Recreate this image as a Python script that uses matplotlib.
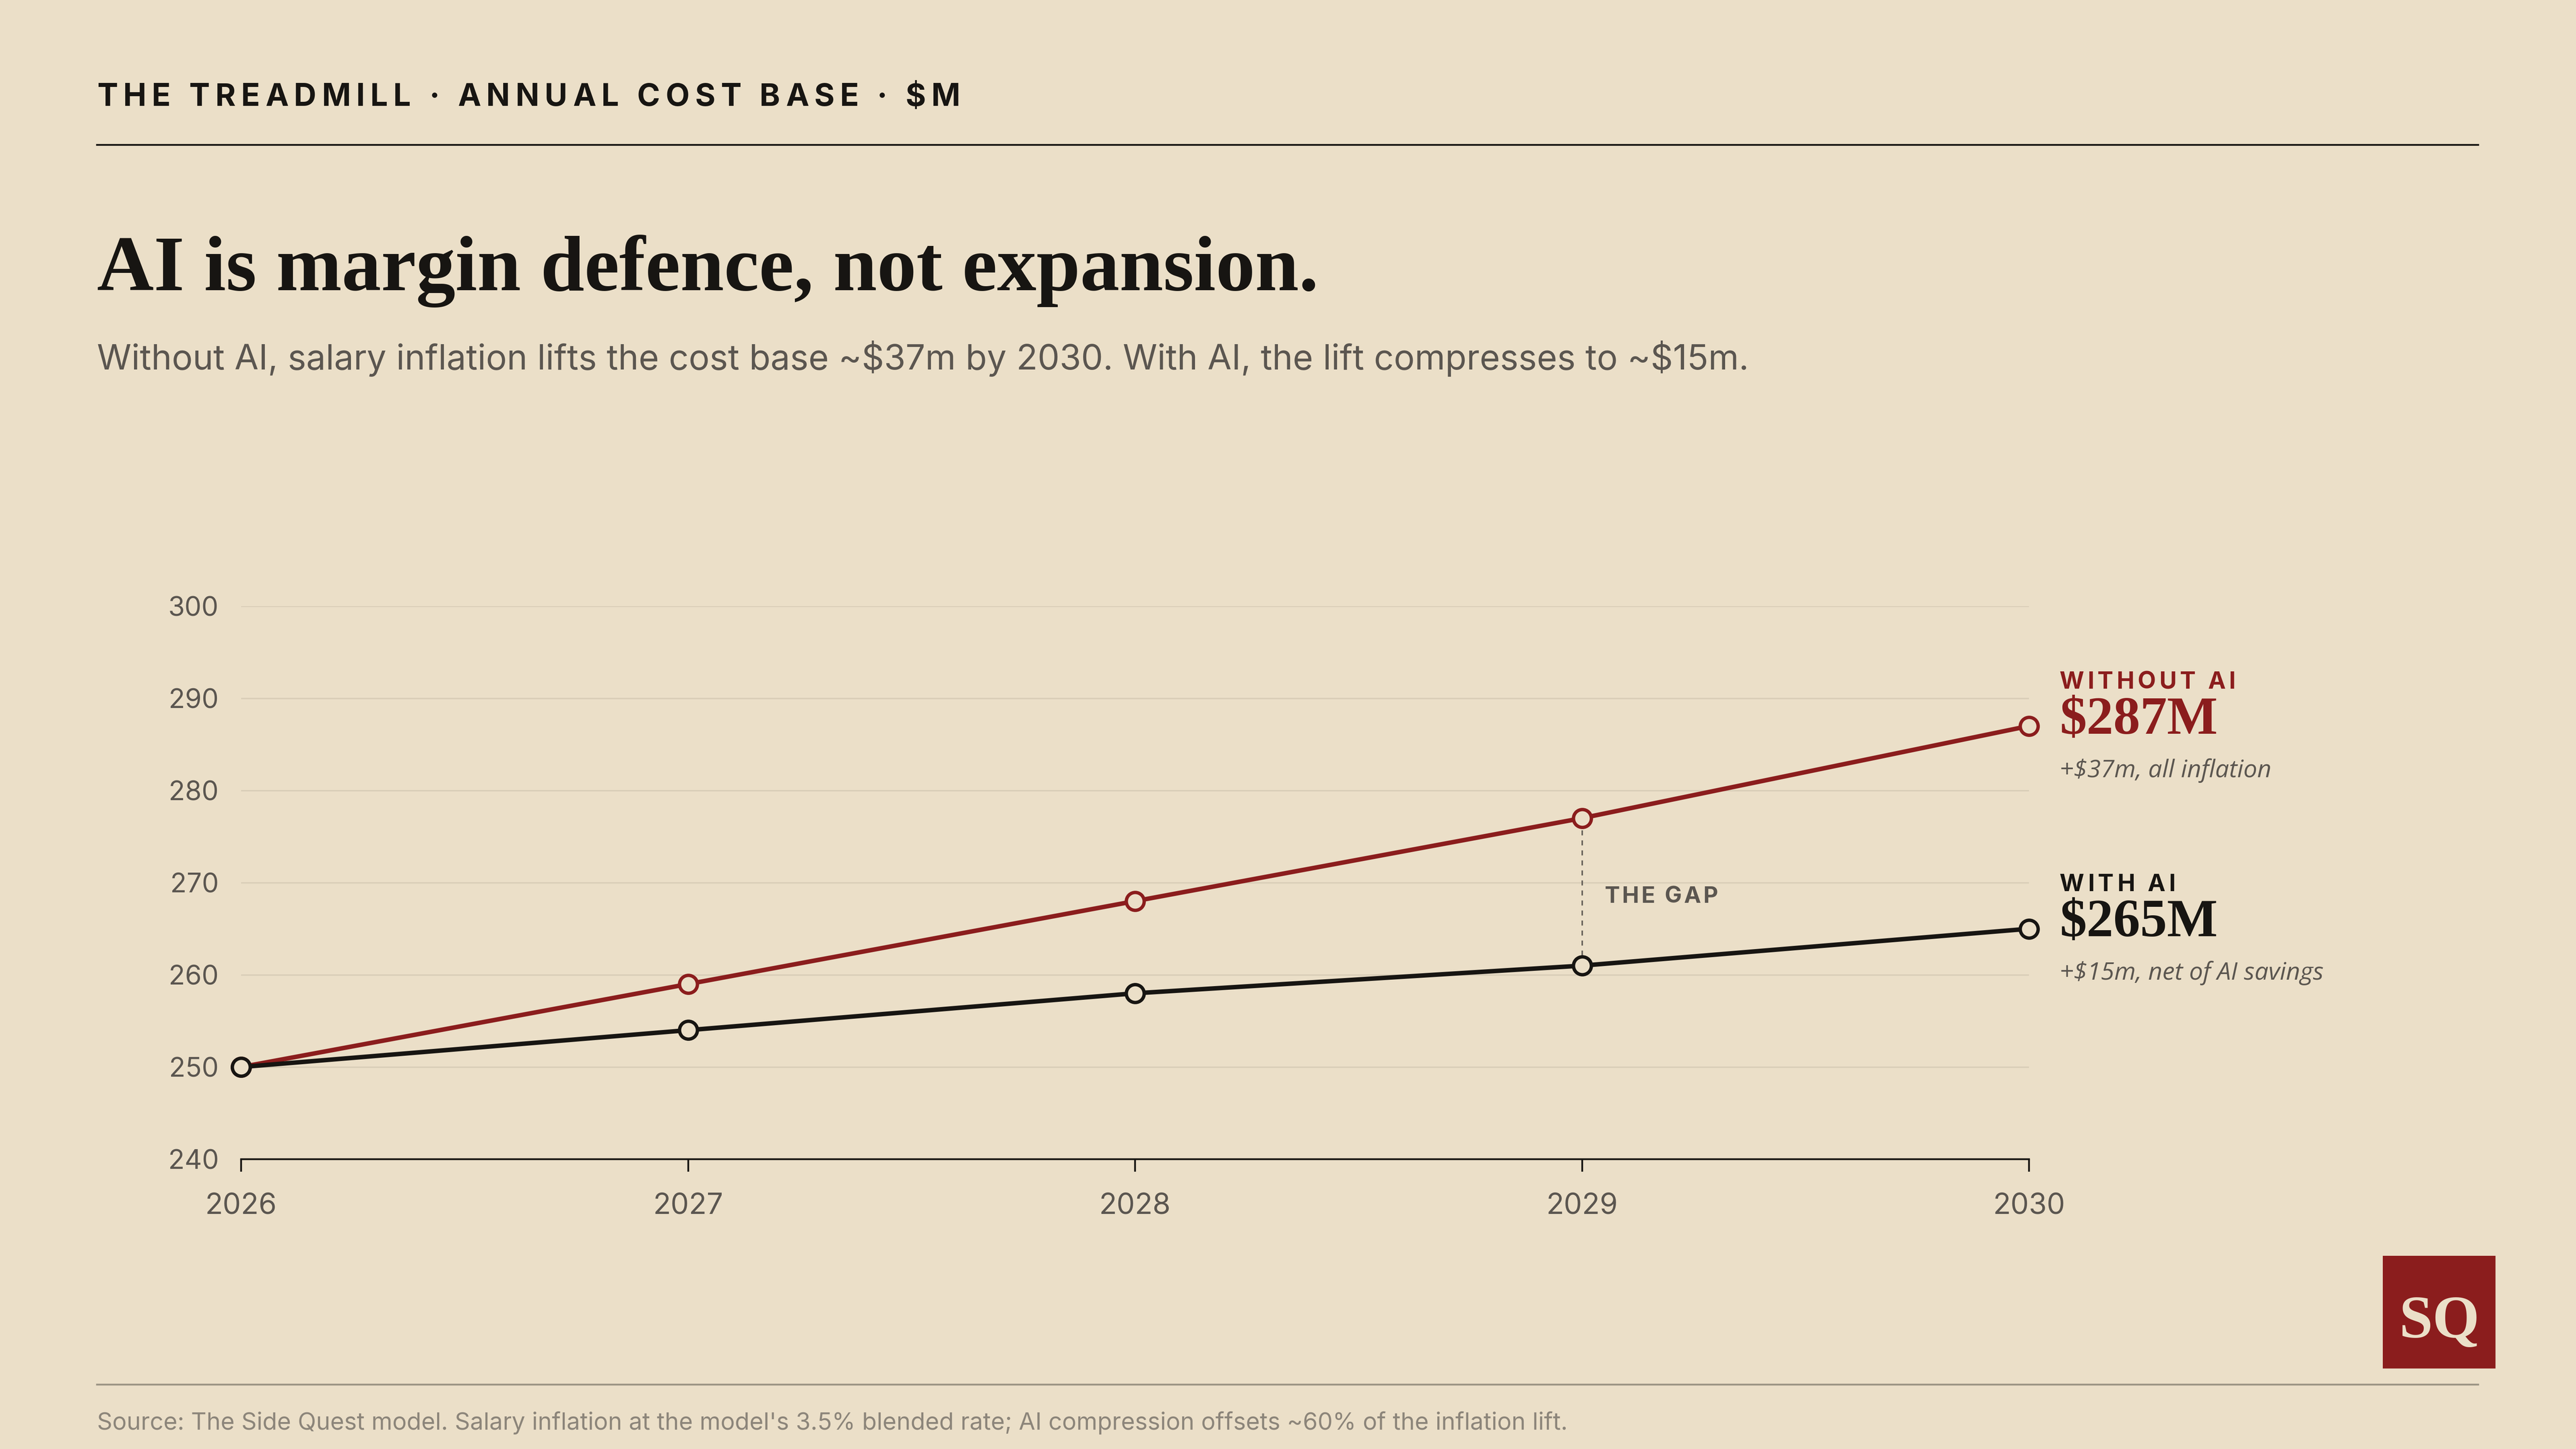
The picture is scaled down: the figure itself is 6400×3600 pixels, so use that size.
import matplotlib
matplotlib.use("Agg")
import matplotlib.pyplot as plt
from matplotlib.patches import Rectangle
from matplotlib.lines import Line2D

# Annual cost base, $M
years = [2026, 2027, 2028, 2029, 2030]
without_ai = [250, 259, 268, 277, 287]
with_ai = [250, 254, 258, 261, 265]
y_ticks = [240, 250, 260, 270, 280, 290, 300]

BG = "#ebdfc8"
RED = "#8b1d1d"
INK = "#171512"
GREY = "#5b5650"
LIGHT = "#8c857a"
GRID = "#d8cdb7"
SANS = "Inter"
SERIF = "Liberation Serif"

plt.rcParams["text.parse_math"] = False

W, H = 6400, 3600
fig = plt.figure(figsize=(16, 9), dpi=400, facecolor=BG)
renderer = fig.canvas.get_renderer()


def fig_text(x, y, s, **kw):
    # x, y in output pixels, origin bottom-left
    return fig.text(x / W, y / H, s, **kw)


def ink_width(s, **kw):
    t = fig_text(0, 0, s, **kw)
    w = t.get_window_extent(renderer).width
    t.remove()
    return w


def tracked(x, y, s, width, **kw):
    # letter-spaced caps, spread so the run spans `width` pixels
    natural = ink_width(s, **kw)
    gap = (width - natural) / (len(s) - 1)
    for i, ch in enumerate(s):
        if ch == " ":
            continue
        pos = x + ink_width(s[:i + 1], **kw) - ink_width(ch, **kw) + i * gap
        fig_text(pos, y, ch, ha="left", va="baseline", **kw)


def hrule(y, color, lw):
    fig.add_artist(Line2D([241 / W, 6157 / W], [y / H, y / H],
                          transform=fig.transFigure, color=color, lw=lw))


# header
tracked(241, H - 263, "THE TREADMILL · ANNUAL COST BASE · $M", 2145,
        family=SANS, fontweight="bold", fontsize=13.9, color=INK)
hrule(H - 360, INK, 0.8)

fig_text(241, H - 721, "AI is margin defence, not expansion.", family=SERIF,
         fontweight="bold", fontsize=35.2, color=INK, va="baseline")
fig_text(241, H - 918,
         "Without AI, salary inflation lifts the cost base ~$37m by 2030. "
         "With AI, the lift compresses to ~$15m.",
         family=SANS, fontsize=15.6, color=GREY, va="baseline")

# chart
ax = fig.add_axes([599 / W, 720 / H, (5041 - 599) / W, (2880 - 1506) / H])
ax.patch.set_visible(False)
ax.set_xlim(years[0], years[-1])
ax.set_ylim(y_ticks[0], y_ticks[-1])
ax.set_xticks(years)
ax.set_yticks(y_ticks)
for side in ["left", "right", "top"]:
    ax.spines[side].set_visible(False)
ax.spines["bottom"].set_color(INK)
ax.spines["bottom"].set_linewidth(0.8)
ax.grid(axis="y", color=GRID, lw=0.6)
ax.set_axisbelow(True)
ax.tick_params(axis="y", length=0, pad=10, labelsize=12, labelcolor=GREY)
ax.tick_params(axis="x", length=5.6, width=0.8, color=INK, pad=9.5,
               labelsize=13, labelcolor=GREY)
for lab in ax.get_xticklabels() + ax.get_yticklabels():
    lab.set_family(SANS)

ax.plot([years[3], years[3]], [with_ai[3], without_ai[3]], color="#6b655d",
        lw=0.7, dashes=(3.2, 3.2), zorder=2)
ax.plot(years, without_ai, color=RED, lw=2, marker="o", ms=8, mfc=BG,
        mec=RED, mew=1.5, clip_on=False, zorder=3)
ax.plot(years, with_ai, color=INK, lw=2, marker="o", ms=8, mfc=BG,
        mec=INK, mew=1.5, clip_on=False, zorder=4)

gx, gy = ax.transData.transform((years[3], (with_ai[3] + without_ai[3]) / 2))
tracked(gx + 56, gy - 27, "THE GAP", 281, family=SANS, fontweight="bold",
        fontsize=10.2, color=GREY)

# end labels
ends = [
    (without_ai, RED, "WITHOUT AI", 437, "+$37m, all inflation"),
    (with_ai, INK, "WITH AI", 288, "+$15m, net of AI savings"),
]
for series, color, name, name_w, note in ends:
    px, py = ax.transData.transform((years[-1], series[-1]))
    tracked(px + 76, py + 93, name, name_w, family=SANS, fontweight="bold",
            fontsize=10.6, color=color)
    fig_text(px + 76, py - 19, f"${series[-1]}M", family=SERIF,
             fontweight="bold", fontsize=24, color=color, va="baseline")
    fig_text(px + 76, py - 127, note, family="Open Sans", style="italic",
             fontsize=11, color=GREY, va="baseline")

# footer
hrule(H - 3440, "#9b9383", 0.8)
fig_text(241, H - 3552,
         "Source: The Side Quest model. Salary inflation at the model's 3.5% "
         "blended rate; AI compression offsets ~60% of the inflation lift.",
         family=SANS, fontsize=10.7, color=LIGHT, va="baseline")

fig.add_artist(Rectangle((5920 / W, (H - 3400) / H), 280 / W, 280 / H,
                         transform=fig.transFigure, color=RED, lw=0))
fig_text(6060, H - 3323, "SQ", family=SERIF, fontweight="bold", fontsize=27,
         color=BG, ha="center", va="baseline")

fig.savefig("out.png", dpi=400, facecolor=BG)
